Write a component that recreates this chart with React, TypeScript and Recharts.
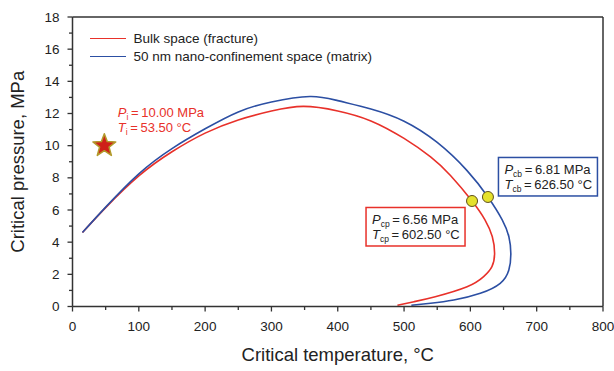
import { ComposedChart, Line, Scatter, XAxis, YAxis, ReferenceLine, ReferenceDot, Legend } from 'recharts';

// bulk space (fracture) envelope
const bulkT = [15, 50, 100, 150, 200, 250, 300, 348, 400, 450, 500, 540, 570, 602.5, 622, 633, 636.5, 632.5, 620, 595, 547, 515, 490];
const bulkP = [4.6, 6.15, 8.12, 9.62, 10.78, 11.6, 12.15, 12.44, 12.16, 11.54, 10.45, 9.3, 8.15, 6.56, 5.39, 4.35, 3.3, 2.48, 1.86, 1.23, 0.61, 0.3, 0.08];

// 50 nm nano-confinement space (matrix)
const nanoT = [15, 50, 100, 150, 200, 250, 300, 358, 400, 450, 500, 550, 595, 626.5, 648, 658, 661, 658, 645, 615, 575, 540, 511];
const nanoP = [4.6, 6.18, 8.25, 9.82, 11.05, 12.1, 12.72, 13.06, 12.8, 12.28, 11.52, 10.2, 8.45, 6.81, 5.39, 4.35, 3.3, 2.27, 1.44, 0.82, 0.4, 0.2, 0.08];

const seriesNames = ['Bulk space (fracture)', '50 nm nano-confinement space (matrix)'];

const initialPoint = [{ x: 48, y: 10 }];
const criticalBulk = { x: 602.5, y: 6.56 };
const criticalNano = { x: 626.5, y: 6.81 };

const xTicks = [0, 50, 100, 150, 200, 250, 300, 350, 400, 450, 500, 550, 600, 650, 700, 750, 800];
const yTicks = [0, 1, 2, 3, 4, 5, 6, 7, 8, 9, 10, 11, 12, 13, 14, 15, 16, 17, 18];

const bulkData = bulkT.map((x, i) => ({ x, y: bulkP[i] }));
const nanoData = nanoT.map((x, i) => ({ x, y: nanoP[i] }));

const FONT = '"Liberation Sans", Arial, Helvetica, sans-serif';
const AXIS = '#333';
const RED = '#e8312a';
const BLUE = '#2c4fa3';
const TEXT = '#222';
const THIN = '\u2009';

const XTick = ({ x, y, payload }: any) => {
  const major = payload.value % 100 === 0;
  return (
    <g>
      <line x1={x} y1={y} x2={x} y2={y + (major ? 5 : 3.5)} stroke={AXIS} strokeWidth={1.3} />
      {major && (
        <text x={x} y={y + 24} textAnchor="middle" fontSize={13.5} fill={TEXT} fontFamily={FONT}>
          {payload.value}
        </text>
      )}
    </g>
  );
};

const YTick = ({ x, y, payload }: any) => {
  const major = payload.value % 2 === 0;
  return (
    <g>
      <line x1={x} y1={y} x2={x - (major ? 5 : 3.5)} y2={y} stroke={AXIS} strokeWidth={1.3} />
      {major && (
        <text x={x - 13} y={y + 4.5} textAnchor="end" fontSize={13.5} fill={TEXT} fontFamily={FONT}>
          {payload.value}
        </text>
      )}
    </g>
  );
};

const Star = ({ cx, cy }: any) => {
  const pts: string[] = [];
  for (let i = 0; i < 10; i++) {
    const r = i % 2 === 0 ? 12 : 5;
    const a = -Math.PI / 2 + (i * Math.PI) / 5;
    pts.push(`${cx + r * Math.cos(a)},${cy + r * Math.sin(a)}`);
  }
  return <polygon points={pts.join(' ')} fill="#cf2119" stroke="#b39a2c" strokeWidth={1.5} strokeLinejoin="round" />;
};

const YellowDot = ({ cx, cy }: any) => (
  <circle cx={cx} cy={cy} r={5.5} fill="#e5e12c" stroke="#5e4f1a" strokeWidth={1} />
);

const Sub = ({ main, sub, rest }: { main: string; sub: string; rest: string }) => (
  <>
    <tspan fontStyle="italic">{main}</tspan>
    <tspan fontSize={8.5} dy={3}>{sub}</tspan>
    <tspan dy={-3}>{rest}</tspan>
  </>
);

const InitialLabel = ({ cx, cy }: any) => (
  <g fontFamily={FONT} fontSize={13} fill={RED}>
    <text x={cx + 13.5} y={cy - 28.5}>
      <Sub main="P" sub="i" rest={`${THIN}=${THIN}10.00 MPa`} />
    </text>
    <text x={cx + 13.5} y={cy - 13.5}>
      <Sub main="T" sub="i" rest={`${THIN}=${THIN}53.50 °C`} />
    </text>
  </g>
);

const makeBox = (dx: number, dy: number, color: string, sub: string, p: string, t: string) => ({ cx, cy }: any) => {
  const bx = cx + dx;
  const by = cy + dy;
  return (
    <g fontFamily={FONT} fontSize={13} fill={TEXT}>
      <rect x={bx} y={by} width={99} height={38.5} fill="#fff" stroke={color} strokeWidth={1.5} />
      <text x={bx + 6} y={by + 16.5}>
        <Sub main="P" sub={sub} rest={`${THIN}=${THIN}${p} MPa`} />
      </text>
      <text x={bx + 6} y={by + 32}>
        <Sub main="T" sub={sub} rest={`${THIN}=${THIN}${t} °C`} />
      </text>
    </g>
  );
};

const BulkBox = makeBox(-106, 6.5, RED, 'cp', '6.56', '602.50');
const NanoBox = makeBox(10.5, -39.5, BLUE, 'cb', '6.81', '626.50');

const LegendContent = () => (
  <div style={{ fontFamily: FONT, fontSize: 13.5, color: TEXT }}>
    {seriesNames.map((name, i) => (
      <div key={name} style={{ display: 'flex', alignItems: 'center', height: 17.7 }}>
        <div style={{ width: 36, height: 0, borderTop: `1.6px solid ${i === 0 ? RED : BLUE}`, marginRight: 7.5 }} />
        <span>{name}</span>
      </div>
    ))}
  </div>
);

export default function App() {
  return (
    <div style={{ position: 'absolute', left: 0, top: 0, width: 614, height: 371, background: '#fff' }}>
      <ComposedChart width={614} height={371} margin={{ top: 17, right: 11, bottom: 34.5, left: 12.5 }}>
        <XAxis
          type="number"
          dataKey="x"
          domain={[0, 800]}
          ticks={xTicks}
          interval={0}
          tickSize={0}
          tickMargin={0}
          tick={<XTick />}
          axisLine={{ stroke: AXIS, strokeWidth: 1.5 }}
          height={30}
          allowDataOverflow
          label={{ value: 'Critical temperature, °C', position: 'bottom', offset: 11.5, style: { fontFamily: FONT, fontSize: 18.5, fill: TEXT } }}
        />
        <YAxis
          type="number"
          dataKey="y"
          domain={[0, 18]}
          ticks={yTicks}
          interval={0}
          tickSize={0}
          tickMargin={0}
          tick={<YTick />}
          axisLine={{ stroke: AXIS, strokeWidth: 1.5 }}
          width={60}
          allowDataOverflow
          label={{ value: 'Critical pressure, MPa', angle: -90, position: 'insideLeft', offset: 5, style: { fontFamily: FONT, fontSize: 18.5, fill: TEXT, textAnchor: 'middle' } }}
        />
        <ReferenceLine y={18} stroke={AXIS} strokeWidth={1.5} />
        <ReferenceLine x={800} stroke={AXIS} strokeWidth={1.5} />
        <Legend
          layout="vertical"
          align="center"
          verticalAlign="middle"
          content={<LegendContent />}
          wrapperStyle={{ left: 90, top: 29.5, width: 'auto' }}
        />
        <Line data={bulkData} dataKey="y" name={seriesNames[0]} type="natural" stroke={RED} strokeWidth={1.6} dot={false} activeDot={false} isAnimationActive={false} />
        <Line data={nanoData} dataKey="y" name={seriesNames[1]} type="natural" stroke={BLUE} strokeWidth={1.6} dot={false} activeDot={false} isAnimationActive={false} />
        <Scatter data={initialPoint} dataKey="y" shape={<Star />} isAnimationActive={false} legendType="none" />
        <Scatter data={[criticalBulk, criticalNano]} dataKey="y" shape={<YellowDot />} isAnimationActive={false} legendType="none" />
        <ReferenceDot x={initialPoint[0].x} y={initialPoint[0].y} r={0} shape={InitialLabel} />
        <ReferenceDot x={criticalBulk.x} y={criticalBulk.y} r={0} shape={BulkBox} />
        <ReferenceDot x={criticalNano.x} y={criticalNano.y} r={0} shape={NanoBox} />
      </ComposedChart>
    </div>
  );
}
